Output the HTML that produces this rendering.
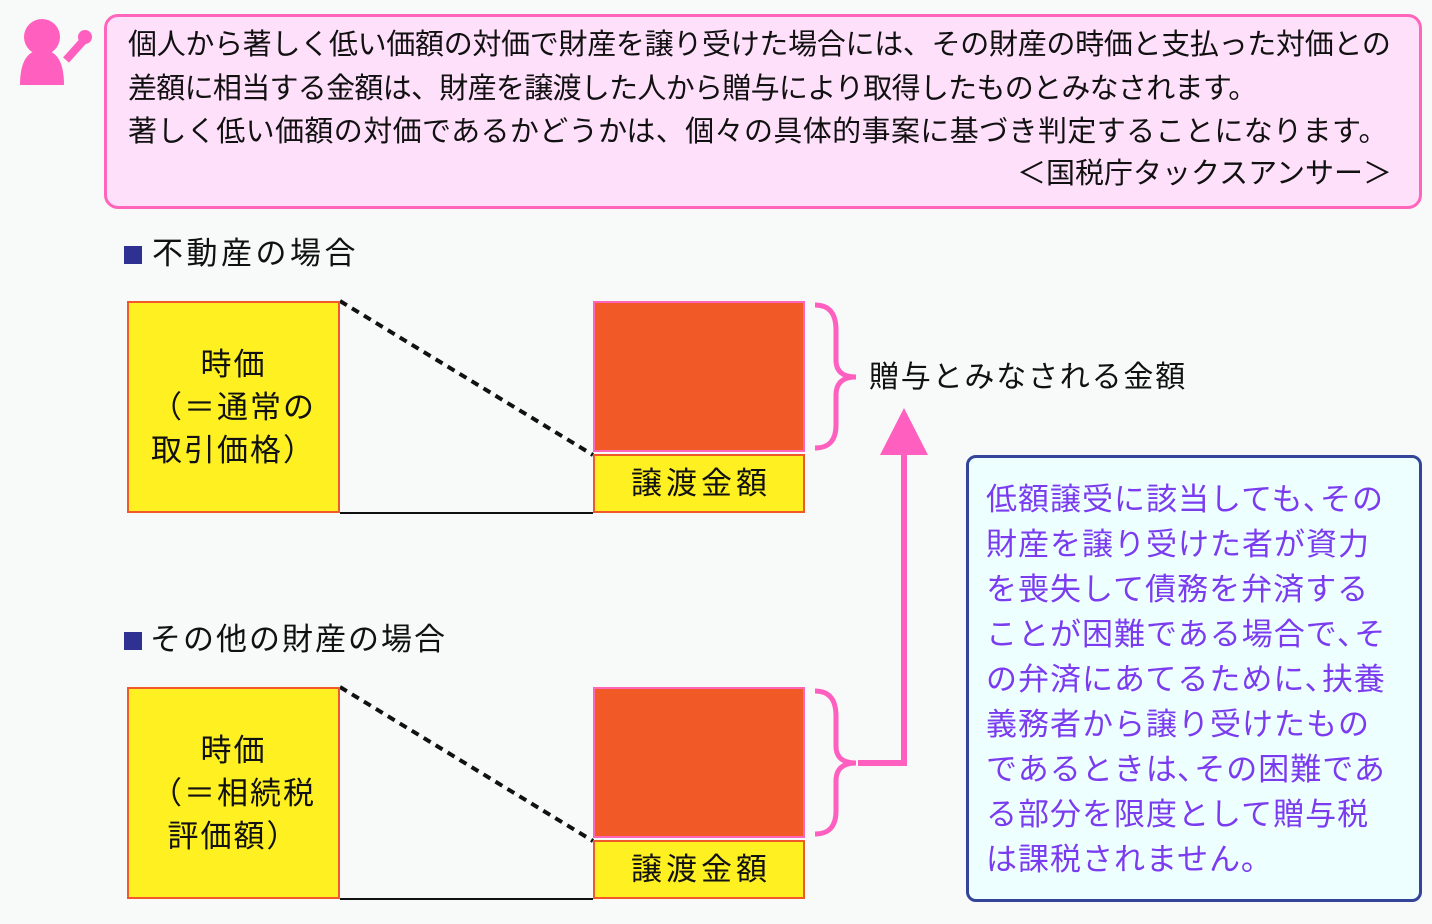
<!DOCTYPE html>
<html><head><meta charset="utf-8"><style>
body{margin:0;width:1432px;height:924px;background:#f8fafa;position:relative;overflow:hidden;font-family:"Liberation Sans","Noto Sans CJK JP",sans-serif;}
.a{position:absolute;}
.t{position:absolute;font-size:28px;color:#111;white-space:nowrap;line-height:1;}
.box{position:absolute;box-sizing:border-box;}
.y{background:#fff021;border:2px solid #f05a28;display:flex;align-items:center;justify-content:center;text-align:center;font-size:31px;line-height:43px;color:#111;letter-spacing:2px;}
.o{background:#f15a27;border:2px solid #ff66bb;}
</style></head><body>
<svg class="a" style="left:0;top:0" width="1432" height="924">
 <circle cx="42" cy="37" r="18" fill="#ff5fbf"/>
 <path d="M20 85 Q20 50 42 50 Q64 50 64 85 Z" fill="#ff5fbf"/>
 <line x1="66" y1="60" x2="84" y2="40" stroke="#ff5fbf" stroke-width="8"/>
 <circle cx="85" cy="37" r="7" fill="#ff5fbf"/>
 <line x1="340" y1="301" x2="593" y2="455" stroke="#111" stroke-width="4" stroke-dasharray="8,6"/>
 <line x1="340" y1="513" x2="593" y2="513" stroke="#111" stroke-width="2"/>
 <line x1="340" y1="687" x2="593" y2="841" stroke="#111" stroke-width="4" stroke-dasharray="8,6"/>
 <line x1="340" y1="899" x2="593" y2="899" stroke="#111" stroke-width="2"/>
 <path d="M815 305 Q836 305 836 330 L836 360 Q836 377 856 377 Q836 377 836 395 L836 425 Q836 448 815 448" fill="none" stroke="#ff5fbf" stroke-width="5"/>
 <path d="M815 691 Q836 691 836 716 L836 746 Q836 763 856 763 Q836 763 836 781 L836 811 Q836 834 815 834" fill="none" stroke="#ff5fbf" stroke-width="5"/>
 <polyline points="858,763 904,763 904,450" fill="none" stroke="#ff5fbf" stroke-width="6"/>
 <polygon points="880,455 928,455 904,408" fill="#ff5fbf"/>
 <rect x="124" y="246" width="18" height="18" fill="#2e3192"/>
 <rect x="124" y="632" width="18" height="18" fill="#2e3192"/>
</svg>
<div class="box" style="left:104px;top:14px;width:1318px;height:195px;border:3px solid #ff66bb;border-radius:14px;background:#ffe0fb;"></div>
<div class="t" style="left:128px;top:31px;font-size:29px;letter-spacing:-0.3px">個人から著しく低い価額の対価で財産を譲り受けた場合には、その財産の時価と支払った対価との</div>
<div class="t" style="left:128px;top:75px;font-size:29px;letter-spacing:-0.7px">差額に相当する金額は、財産を譲渡した人から贈与により取得したものとみなされます。</div>
<div class="t" style="left:128px;top:118px;font-size:29px;letter-spacing:0.4px">著しく低い価額の対価であるかどうかは、個々の具体的事案に基づき判定することになります。</div>
<div class="t" style="right:40px;top:160px;font-size:29px;">＜国税庁タックスアンサー＞</div>
<div class="t" style="left:152px;top:238px;font-size:31px;letter-spacing:3.5px">不動産の場合</div>
<div class="t" style="left:150px;top:624px;font-size:31px;letter-spacing:2px">その他の財産の場合</div>
<div class="box y" style="left:127px;top:301px;width:213px;height:212px;">時価<br>（＝通常の<br>取引価格）</div>
<div class="box o" style="left:593px;top:301px;width:212px;height:151px;"></div>
<div class="box y" style="left:593px;top:454px;width:212px;height:59px;letter-spacing:4px;padding-left:4px">譲渡金額</div>
<div class="box y" style="left:127px;top:687px;width:213px;height:212px;">時価<br>（＝相続税<br>評価額）</div>
<div class="box o" style="left:593px;top:687px;width:212px;height:151px;"></div>
<div class="box y" style="left:593px;top:840px;width:212px;height:59px;letter-spacing:4px;padding-left:4px">譲渡金額</div>
<div class="t" style="left:869px;top:363px;font-size:30px;letter-spacing:1.8px">贈与とみなされる金額</div>
<div class="box" style="left:966px;top:455px;width:456px;height:447px;border:3px solid #334499;border-radius:10px;background:#eeffff;"></div>
<div class="a" style="left:986px;top:477px;width:436px;font-size:31px;line-height:45px;color:#7b3cf0;letter-spacing:1px;white-space:nowrap">低額譲受に該当しても､その<br>財産を譲り受けた者が資力<br>を喪失して債務を弁済する<br>ことが困難である場合で､そ<br>の弁済にあてるために､扶養<br>義務者から譲り受けたもの<br>であるときは､その困難であ<br>る部分を限度として贈与税<br>は課税されません｡</div>
</body></html>
